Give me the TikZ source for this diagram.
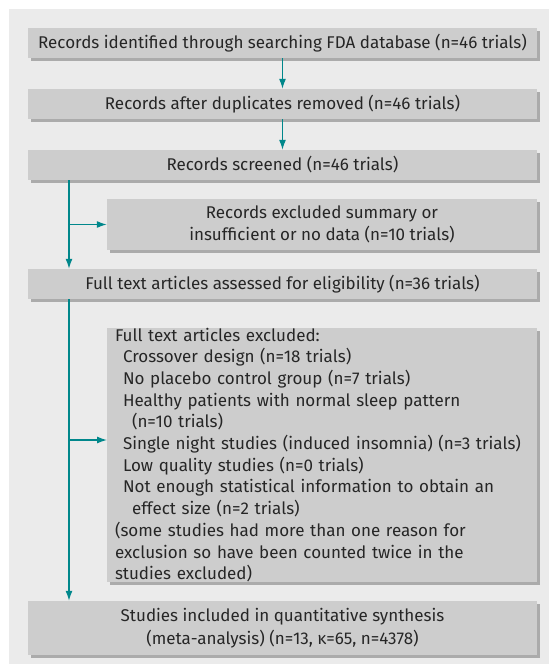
\documentclass[tikz,border=0pt]{standalone}
\usepackage{fontspec}
\setmainfont{Fira Sans}
\usetikzlibrary{arrows.meta,shadows}

\definecolor{panelgray}{HTML}{EBEBEB}
\definecolor{boxgray}{HTML}{CDCDCD}
\definecolor{shadegray}{HTML}{ABABAB}
\definecolor{flowteal}{HTML}{00878B}

\begin{document}
\begin{tikzpicture}[x=1pt,y=-1pt,>={Latex[length=10pt,width=7pt]},
  box/.style={fill=boxgray,text=black!85,inner sep=0pt,minimum width=509pt,minimum height=30pt,
    align=center,font=\fontsize{17}{22.5}\selectfont,
    drop shadow={shadow xshift=3pt,shadow yshift=-3pt,fill=shadegray,opacity=1}},
  sidebox/.style={box,minimum width=430pt},
  flow/.style={draw=flowteal,line width=1.3pt}]

\useasboundingbox (0,0) rectangle (549,664);
\fill[panelgray] (9,9) rectangle (549,664);

\node[box] (rec) at (282.5,43) {Records identified through searching FDA database (n=46 trials)};
\node[box] (dup) at (282.5,104) {Records after duplicates removed (n=46 trials)};
\node[box] (screen) at (282.5,165) {Records screened (n=46 trials)};
\node[sidebox,minimum height=51pt] (excl) at (322,224.5)
  {Records excluded summary or\\insufficient or no data (n=10 trials)};
\node[box] (full) at (282.5,284) {Full text articles assessed for eligibility (n=36 trials)};
\node[sidebox,minimum height=254pt,text width=414pt,align=left,
  font=\fontsize{17}{21.7}\selectfont] (ftexcl) at (322,455) {%
Full text articles excluded:\\
\hspace*{8pt}Crossover design (n=18 trials)\\
\hspace*{8pt}No placebo control group (n=7 trials)\\
\hspace*{8pt}Healthy patients with normal sleep pattern\\
\hspace*{17pt}(n=10 trials)\\
\hspace*{8pt}Single night studies (induced insomnia) (n=3 trials)\\
\hspace*{8pt}Low quality studies (n=0 trials)\\
\hspace*{8pt}Not enough statistical information to obtain an\\
\hspace*{17pt}effect size (n=2 trials)\\
(some studies had more than one reason for\\
exclusion so have been counted twice in the\\
studies excluded)};
\node[box,minimum height=54pt] (incl) at (282.5,628)
  {Studies included in quantitative synthesis\\(meta-analysis) (n=13, κ=65, n=4378)};

% main column
\draw[flow,->] (rec) -- (dup);
\draw[flow,->] (dup) -- (screen);

% left trunk with side branches
\coordinate (trunk) at (69,0);
\coordinate (ftin) at (107,440);
\draw[flow,->] (screen.south -| trunk) -- (full.north -| trunk);
\draw[flow,->] (trunk |- excl.west) -- (excl.west);
\draw[flow,->] (full.south -| trunk) -- (incl.north -| trunk);
\draw[flow,->] (trunk |- ftin) -- (ftin);

\end{tikzpicture}
\end{document}
